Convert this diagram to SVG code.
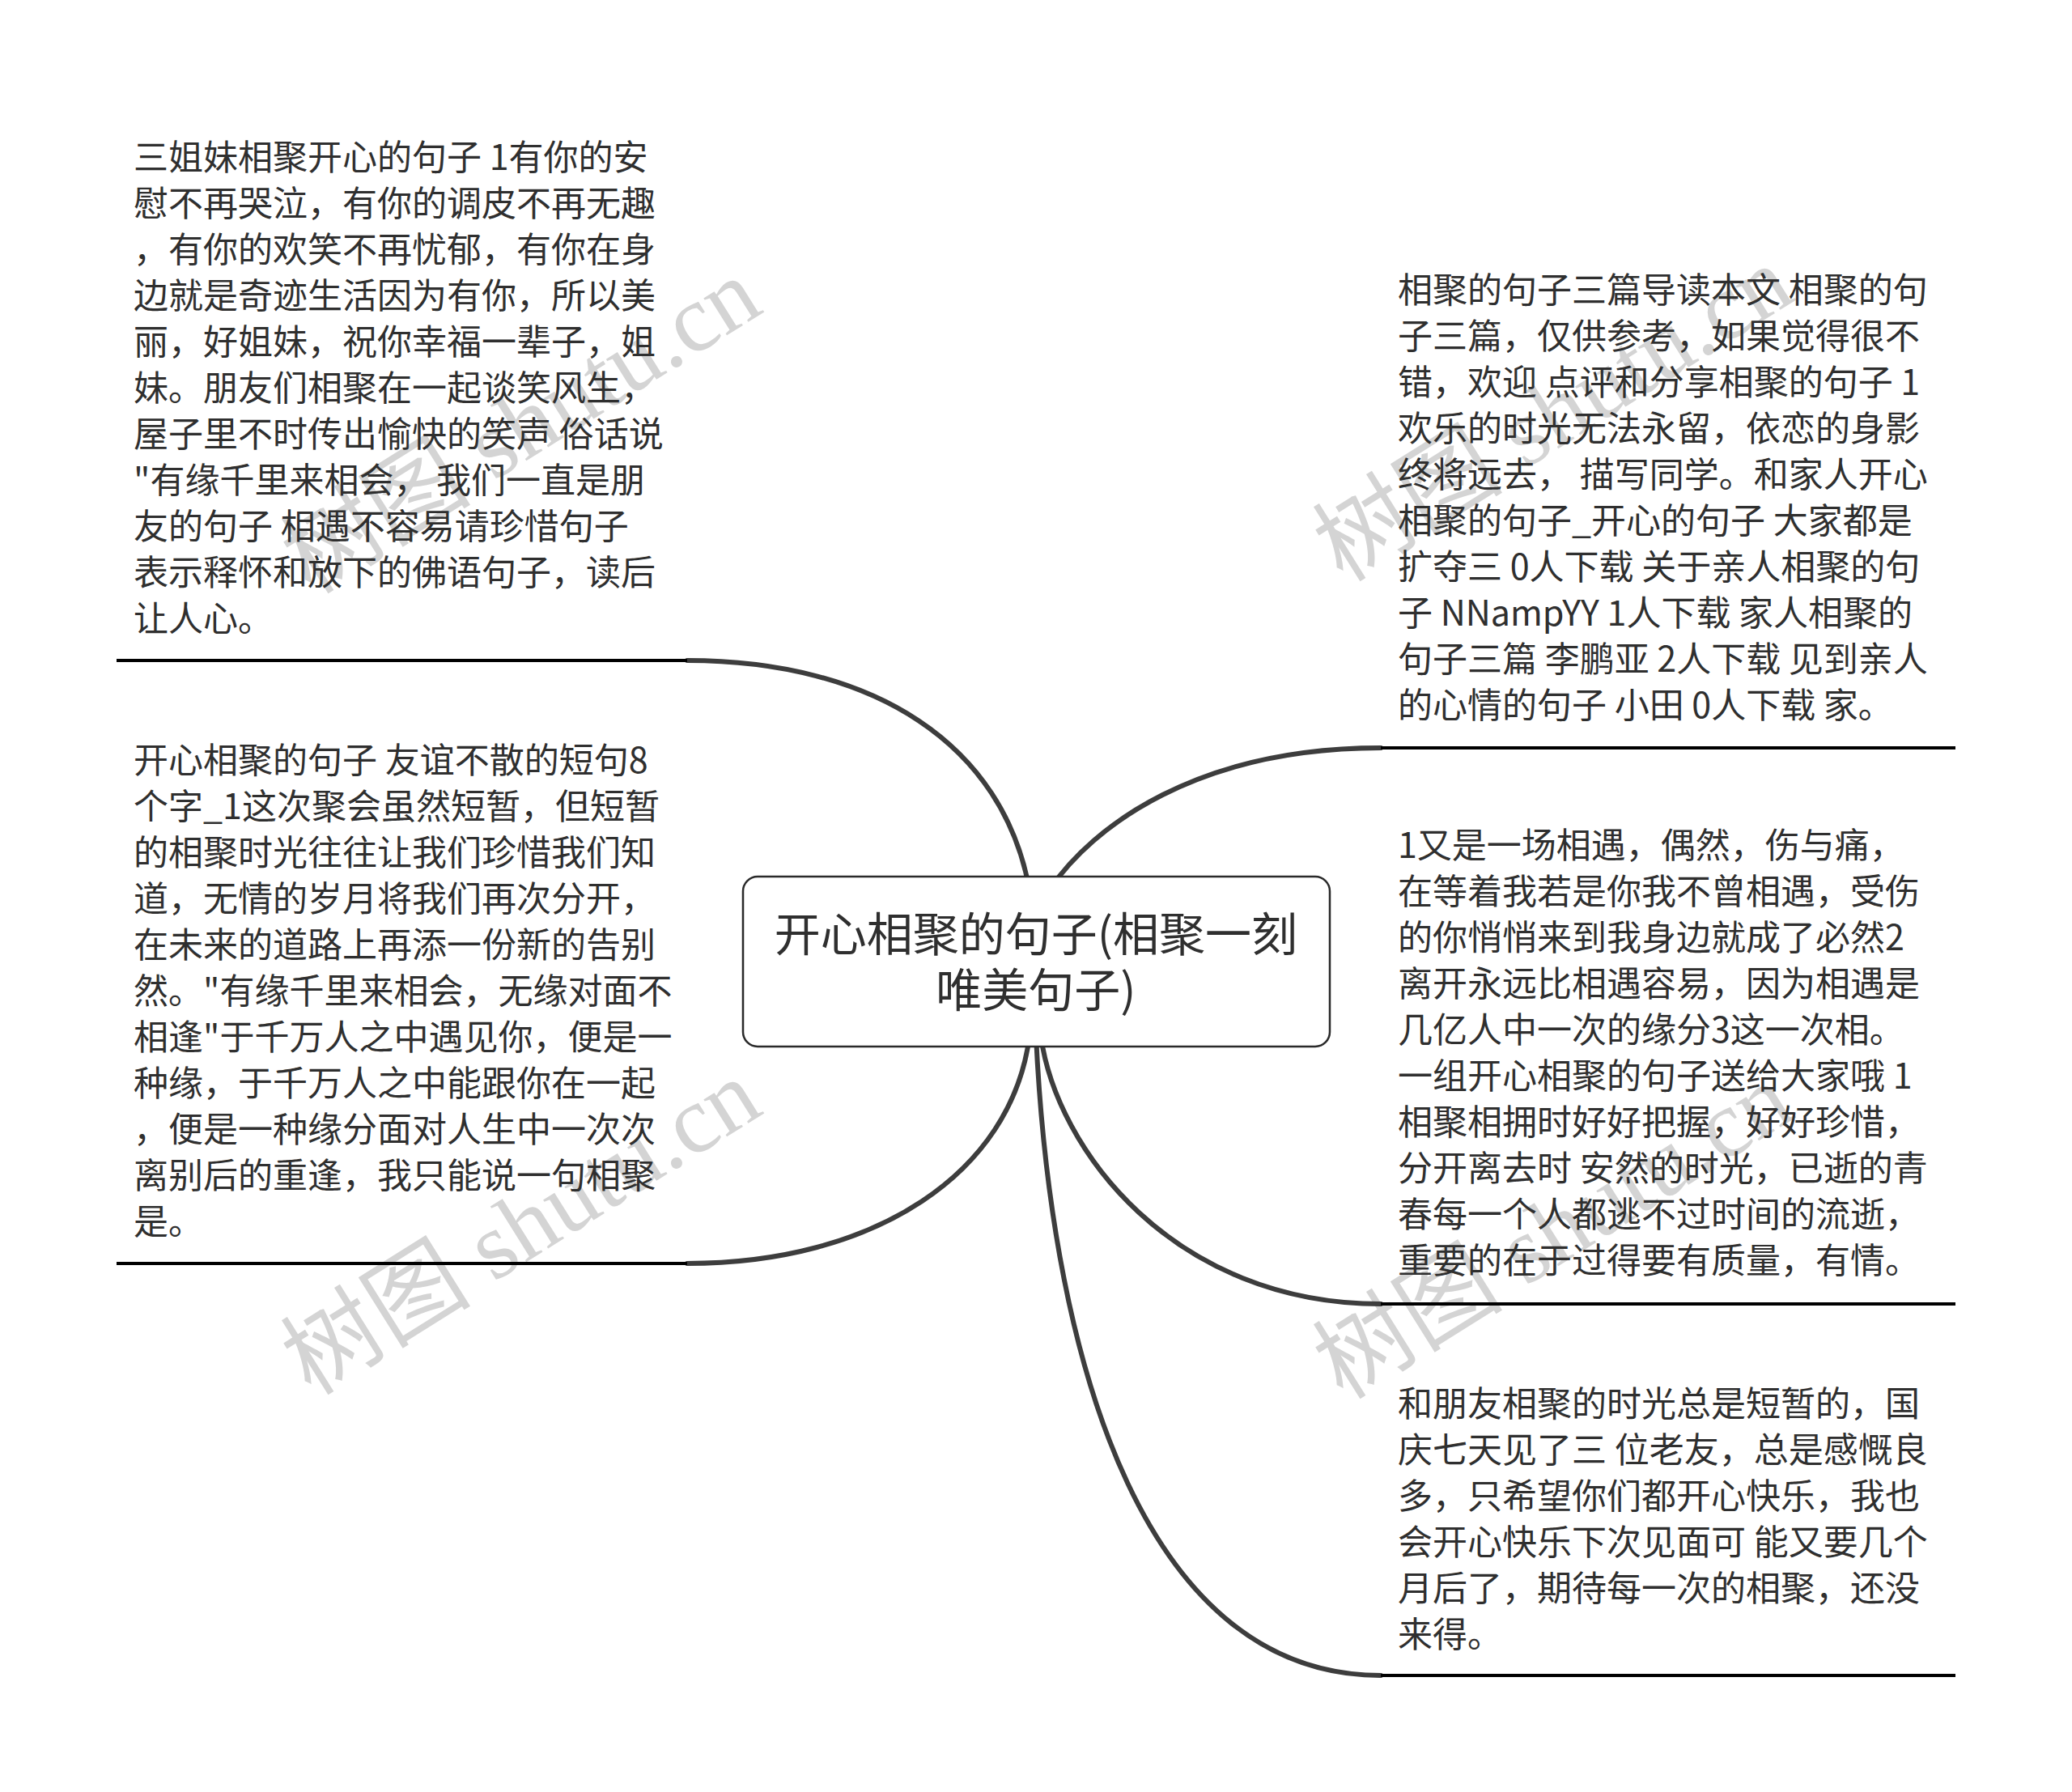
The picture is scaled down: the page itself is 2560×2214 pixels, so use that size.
<svg xmlns="http://www.w3.org/2000/svg" width="2560" height="2214" viewBox="0 0 2560 2214">
<style>
.t{font-family:"Noto Sans CJK SC","Noto Sans",sans-serif;font-size:43px;fill:#2f2f2f}
.title{font-family:"Noto Sans CJK SC","Noto Sans",sans-serif;font-size:57px;fill:#2f2f2f;text-anchor:middle}
.ul{stroke:#000;stroke-width:4;fill:none}
.cv{stroke:#3d3d3d;stroke-width:6;fill:none;stroke-linecap:round}
.wm{font-family:"Liberation Serif","Noto Sans CJK SC",serif;font-size:118px;fill:#d4d4d4;text-anchor:middle}
</style>
<rect width="2560" height="2214" fill="#fff"/>
<g id="watermarks">
<text class="wm" transform="translate(665,560) rotate(-32)">树图 shutu.cn</text>
<text class="wm" transform="translate(665,1550) rotate(-32)">树图 shutu.cn</text>
<text class="wm" transform="translate(1940,545) rotate(-32)">树图 shutu.cn</text>
<text class="wm" transform="translate(1940,1555) rotate(-32)">树图 shutu.cn</text>
</g>
<g id="connectors">
<path class="cv" d="M849,816 C1080,816 1240,920 1272,1100"/>
<path class="cv" d="M849,1561 C1080,1561 1250,1450 1272,1280"/>
<path class="cv" d="M1706,924 C1480,924 1350,1020 1296,1100"/>
<path class="cv" d="M1706,1611 C1450,1611 1305,1420 1286,1280"/>
<path class="cv" d="M1706,2070 C1420,2070 1300,1700 1280,1280"/>
</g>
<g id="root">
<rect x="918" y="1083" width="725" height="210" rx="18" ry="18" fill="#fff" stroke="#2a2a2a" stroke-width="2.5"/>
<text class="title" x="1280" y="1175">开心相聚的句子(相聚一刻</text>
<text class="title" x="1280" y="1244">唯美句子)</text>
</g>
<g id="node-left-1">
<line class="ul" x1="144" y1="816" x2="849" y2="816"/>
<text class="t">
<tspan x="165" y="210">三姐妹相聚开心的句子 1有你的安</tspan>
<tspan x="165" dy="57">慰不再哭泣，有你的调皮不再无趣</tspan>
<tspan x="165" dy="57">，有你的欢笑不再忧郁，有你在身</tspan>
<tspan x="165" dy="57">边就是奇迹生活因为有你，所以美</tspan>
<tspan x="165" dy="57">丽，好姐妹，祝你幸福一辈子，姐</tspan>
<tspan x="165" dy="57">妹。朋友们相聚在一起谈笑风生，</tspan>
<tspan x="165" dy="57">屋子里不时传出愉快的笑声 俗话说</tspan>
<tspan x="165" dy="57">"有缘千里来相会， 我们一直是朋</tspan>
<tspan x="165" dy="57">友的句子 相遇不容易请珍惜句子</tspan>
<tspan x="165" dy="57">表示释怀和放下的佛语句子，读后</tspan>
<tspan x="165" dy="57">让人心。</tspan>
</text>
</g>
<g id="node-left-2">
<line class="ul" x1="144" y1="1561" x2="849" y2="1561"/>
<text class="t">
<tspan x="165" y="955">开心相聚的句子 友谊不散的短句8</tspan>
<tspan x="165" dy="57">个字_1这次聚会虽然短暂，但短暂</tspan>
<tspan x="165" dy="57">的相聚时光往往让我们珍惜我们知</tspan>
<tspan x="165" dy="57">道，无情的岁月将我们再次分开，</tspan>
<tspan x="165" dy="57">在未来的道路上再添一份新的告别</tspan>
<tspan x="165" dy="57">然。"有缘千里来相会，无缘对面不</tspan>
<tspan x="165" dy="57">相逢"于千万人之中遇见你，便是一</tspan>
<tspan x="165" dy="57">种缘，于千万人之中能跟你在一起</tspan>
<tspan x="165" dy="57">，便是一种缘分面对人生中一次次</tspan>
<tspan x="165" dy="57">离别后的重逢，我只能说一句相聚</tspan>
<tspan x="165" dy="57">是。</tspan>
</text>
</g>
<g id="node-right-1">
<line class="ul" x1="1706" y1="924" x2="2416" y2="924"/>
<text class="t">
<tspan x="1727" y="374">相聚的句子三篇导读本文 相聚的句</tspan>
<tspan x="1727" dy="57">子三篇，仅供参考，如果觉得很不</tspan>
<tspan x="1727" dy="57">错，欢迎 点评和分享相聚的句子 1</tspan>
<tspan x="1727" dy="57">欢乐的时光无法永留，依恋的身影</tspan>
<tspan x="1727" dy="57">终将远去， 描写同学。和家人开心</tspan>
<tspan x="1727" dy="57">相聚的句子_开心的句子 大家都是</tspan>
<tspan x="1727" dy="57">扩夺三 0人下载 关于亲人相聚的句</tspan>
<tspan x="1727" dy="57">子 NNampYY 1人下载 家人相聚的</tspan>
<tspan x="1727" dy="57">句子三篇 李鹏亚 2人下载 见到亲人</tspan>
<tspan x="1727" dy="57">的心情的句子 小田 0人下载 家。</tspan>
</text>
</g>
<g id="node-right-2">
<line class="ul" x1="1706" y1="1611" x2="2416" y2="1611"/>
<text class="t">
<tspan x="1727" y="1060">1又是一场相遇，偶然，伤与痛，</tspan>
<tspan x="1727" dy="57">在等着我若是你我不曾相遇，受伤</tspan>
<tspan x="1727" dy="57">的你悄悄来到我身边就成了必然2</tspan>
<tspan x="1727" dy="57">离开永远比相遇容易，因为相遇是</tspan>
<tspan x="1727" dy="57">几亿人中一次的缘分3这一次相。</tspan>
<tspan x="1727" dy="57">一组开心相聚的句子送给大家哦 1</tspan>
<tspan x="1727" dy="57">相聚相拥时好好把握，好好珍惜，</tspan>
<tspan x="1727" dy="57">分开离去时 安然的时光，已逝的青</tspan>
<tspan x="1727" dy="57">春每一个人都逃不过时间的流逝，</tspan>
<tspan x="1727" dy="57">重要的在于过得要有质量，有情。</tspan>
</text>
</g>
<g id="node-right-3">
<line class="ul" x1="1706" y1="2070" x2="2416" y2="2070"/>
<text class="t">
<tspan x="1727" y="1750">和朋友相聚的时光总是短暂的，国</tspan>
<tspan x="1727" dy="57">庆七天见了三 位老友，总是感慨良</tspan>
<tspan x="1727" dy="57">多，只希望你们都开心快乐，我也</tspan>
<tspan x="1727" dy="57">会开心快乐下次见面可 能又要几个</tspan>
<tspan x="1727" dy="57">月后了，期待每一次的相聚，还没</tspan>
<tspan x="1727" dy="57">来得。</tspan>
</text>
</g>
</svg>
